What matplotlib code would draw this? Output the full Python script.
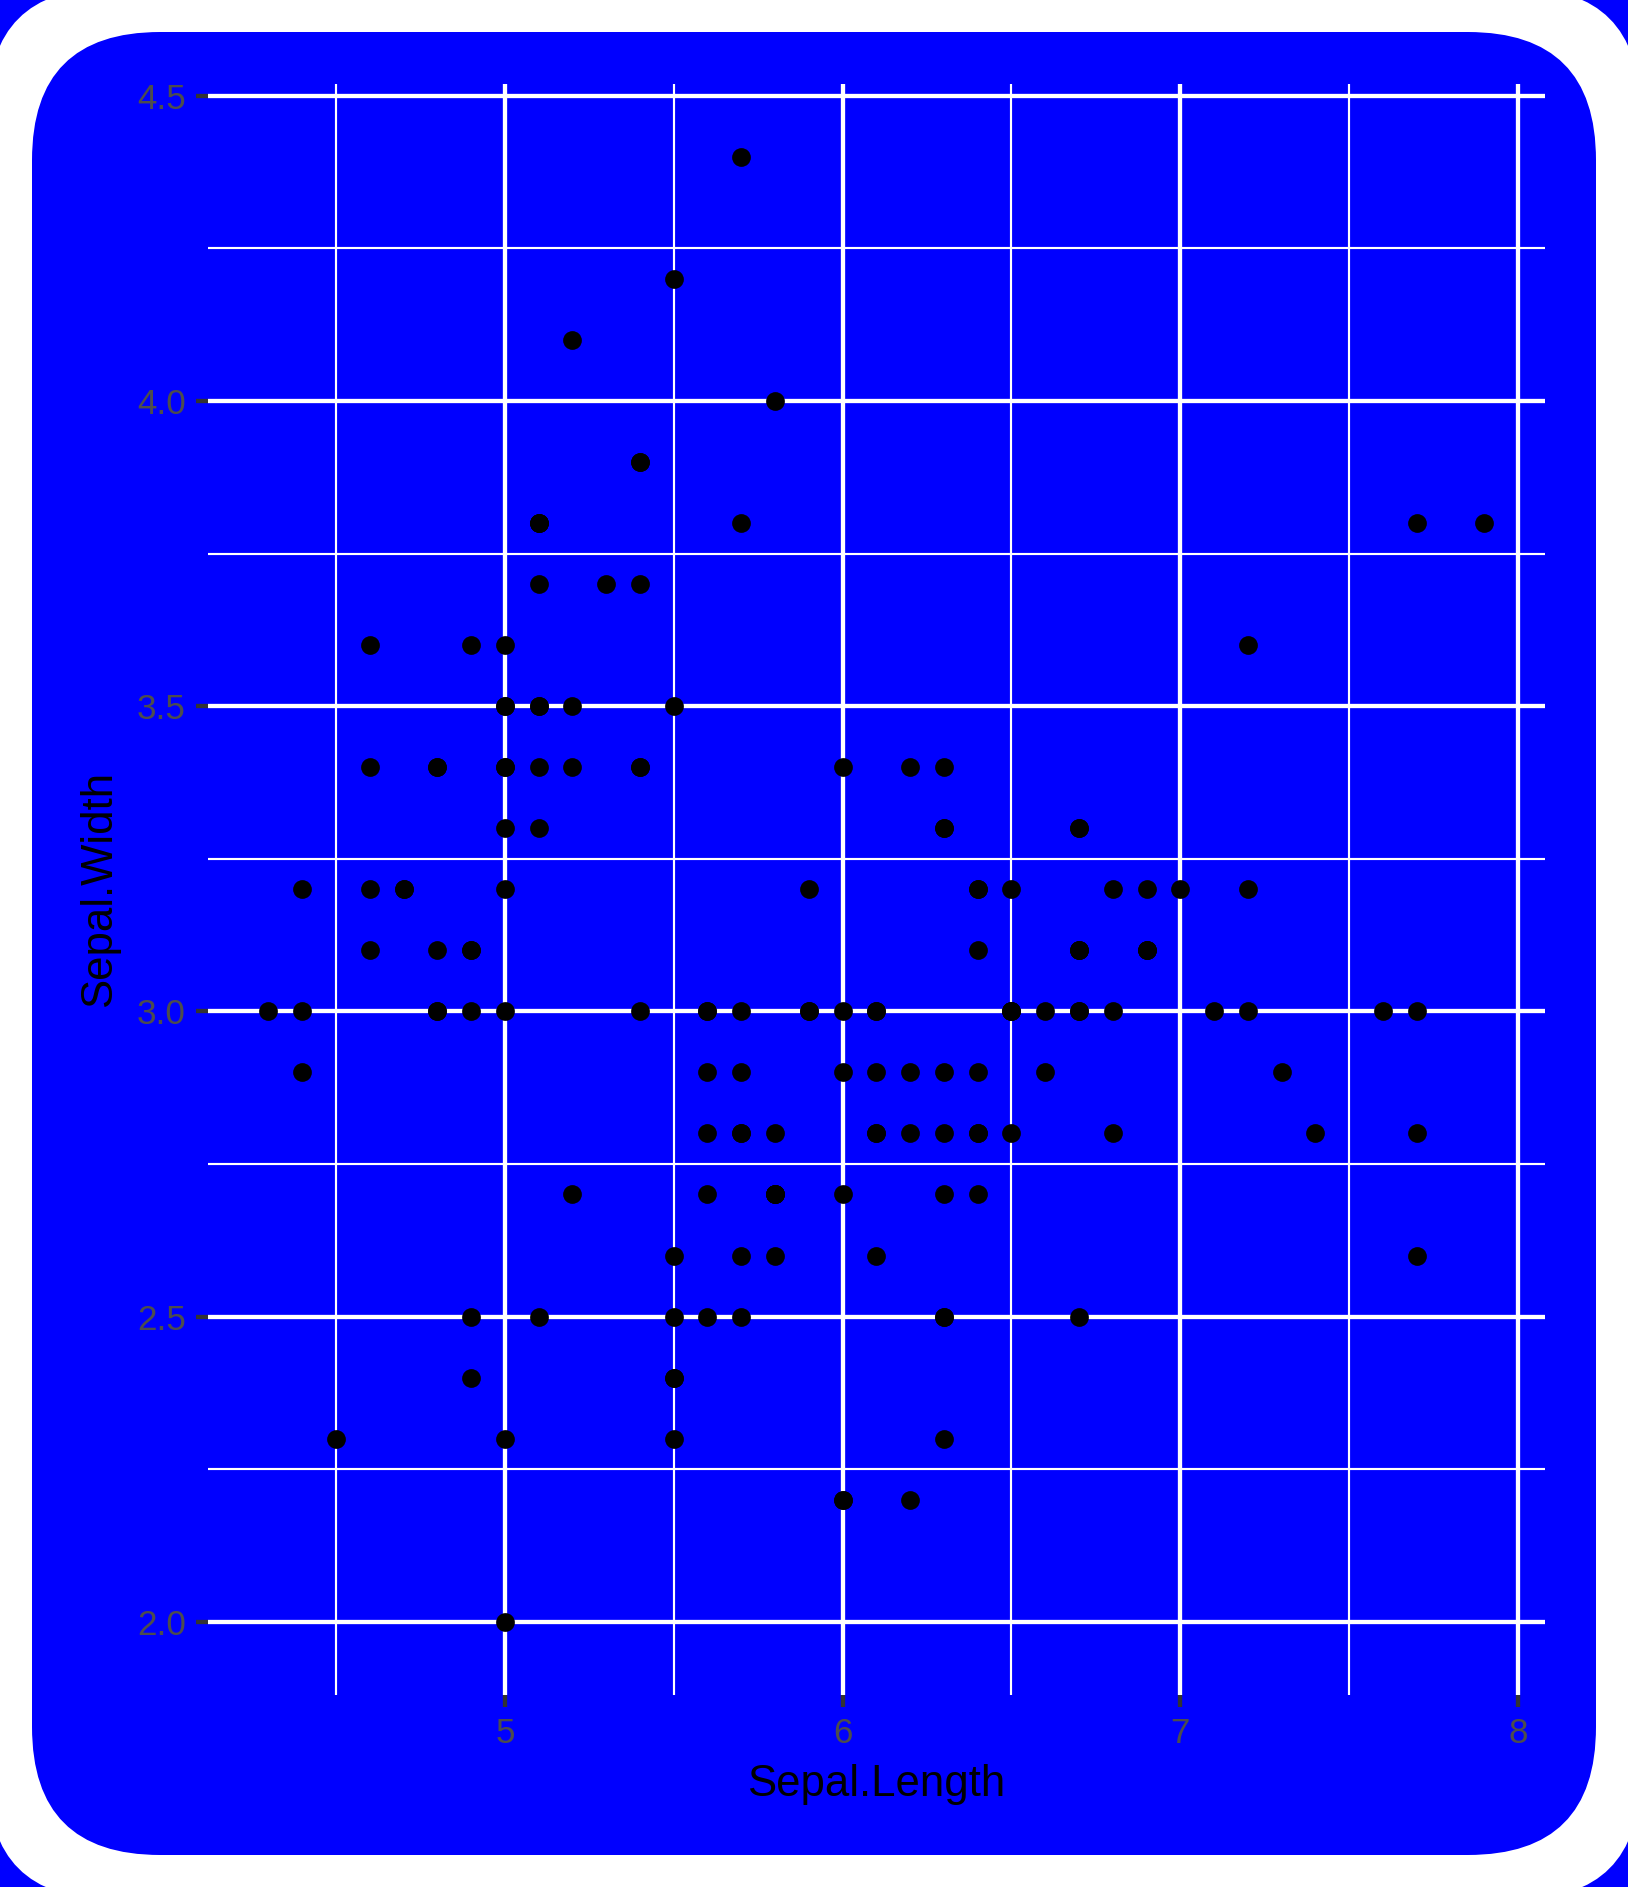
import matplotlib
matplotlib.use("Agg")
import matplotlib.pyplot as plt
from matplotlib.patches import FancyBboxPatch
from matplotlib.transforms import IdentityTransform
from matplotlib.ticker import MultipleLocator

plt.rcParams['font.family'] = ['Liberation Sans', 'DejaVu Sans']

# iris: Sepal.Length / Sepal.Width
sepal_length = [
    5.1, 4.9, 4.7, 4.6, 5.0, 5.4, 4.6, 5.0, 4.4, 4.9, 5.4, 4.8, 4.8, 4.3, 5.8, 5.7, 5.4, 5.1, 5.7, 5.1,
    5.4, 5.1, 4.6, 5.1, 4.8, 5.0, 5.0, 5.2, 5.2, 4.7, 4.8, 5.4, 5.2, 5.5, 4.9, 5.0, 5.5, 4.9, 4.4, 5.1,
    5.0, 4.5, 4.4, 5.0, 5.1, 4.8, 5.1, 4.6, 5.3, 5.0,
    7.0, 6.4, 6.9, 5.5, 6.5, 5.7, 6.3, 4.9, 6.6, 5.2, 5.0, 5.9, 6.0, 6.1, 5.6, 6.7, 5.6, 5.8, 6.2, 5.6,
    5.9, 6.1, 6.3, 6.1, 6.4, 6.6, 6.8, 6.7, 6.0, 5.7, 5.5, 5.5, 5.8, 6.0, 5.4, 6.0, 6.7, 6.3, 5.6, 5.5,
    5.5, 6.1, 5.8, 5.0, 5.6, 5.7, 5.7, 6.2, 5.1, 5.7,
    6.3, 5.8, 7.1, 6.3, 6.5, 7.6, 4.9, 7.3, 6.7, 7.2, 6.5, 6.4, 6.8, 5.7, 5.8, 6.4, 6.5, 7.7, 7.7, 6.0,
    6.9, 5.6, 7.7, 6.3, 6.7, 7.2, 6.2, 6.1, 6.4, 7.2, 7.4, 7.9, 6.4, 6.3, 6.1, 7.7, 6.3, 6.4, 6.0, 6.9,
    6.7, 6.9, 5.8, 6.8, 6.7, 6.7, 6.3, 6.5, 6.2, 5.9,
]
sepal_width = [
    3.5, 3.0, 3.2, 3.1, 3.6, 3.9, 3.4, 3.4, 2.9, 3.1, 3.7, 3.4, 3.0, 3.0, 4.0, 4.4, 3.9, 3.5, 3.8, 3.8,
    3.4, 3.7, 3.6, 3.3, 3.4, 3.0, 3.4, 3.5, 3.4, 3.2, 3.1, 3.4, 4.1, 4.2, 3.1, 3.2, 3.5, 3.6, 3.0, 3.4,
    3.5, 2.3, 3.2, 3.5, 3.8, 3.0, 3.8, 3.2, 3.7, 3.3,
    3.2, 3.2, 3.1, 2.3, 2.8, 2.8, 3.3, 2.4, 2.9, 2.7, 2.0, 3.0, 2.2, 2.9, 2.9, 3.1, 3.0, 2.7, 2.2, 2.5,
    3.2, 2.8, 2.5, 2.8, 2.9, 3.0, 2.8, 3.0, 2.9, 2.6, 2.4, 2.4, 2.7, 2.7, 3.0, 3.4, 3.1, 2.3, 3.0, 2.5,
    2.6, 3.0, 2.6, 2.3, 2.7, 3.0, 2.9, 2.9, 2.5, 2.8,
    3.3, 2.7, 3.0, 2.9, 3.0, 3.0, 2.5, 2.9, 2.5, 3.6, 3.2, 2.7, 3.0, 2.5, 2.8, 3.2, 3.0, 3.8, 2.6, 2.2,
    3.2, 2.8, 2.8, 2.7, 3.3, 3.2, 2.8, 3.0, 2.8, 3.0, 2.8, 3.8, 2.8, 2.8, 2.6, 3.0, 3.4, 3.1, 3.0, 3.1,
    3.1, 3.1, 2.7, 3.2, 3.3, 3.0, 2.5, 3.0, 3.4, 3.0,
]
x_ticks = [5, 6, 7, 8]
y_ticks = [2.0, 2.5, 3.0, 3.5, 4.0, 4.5]

W, H = 1628, 1887
fig = plt.figure(figsize=(W / 100, H / 100), dpi=100, facecolor='#0000FF')

# white rounded frame, then blue rounded plot background
outer = FancyBboxPatch((-12, -12), W + 24, H + 24,
                       boxstyle="round,pad=0,rounding_size=122",
                       transform=IdentityTransform(), facecolor='white',
                       edgecolor='none', zorder=-10)
inner = FancyBboxPatch((32, 32), W - 64, H - 64,
                       boxstyle="round,pad=0,rounding_size=128",
                       transform=IdentityTransform(), facecolor='#0000FF',
                       edgecolor='none', zorder=-9)
fig.add_artist(outer)
fig.add_artist(inner)

ax = fig.add_axes([207.7 / W, 1 - 1695 / H, (1545 - 207.7) / W, (1695 - 83.5) / H])
ax.set_facecolor('none')
ax.set_axisbelow(True)

xmin, xmax = min(sepal_length), max(sepal_length)
ymin, ymax = min(sepal_width), max(sepal_width)
dx = (xmax - xmin) * 0.05
dy = (ymax - ymin) * 0.05
ax.set_xlim(xmin - dx, xmax + dx)
ax.set_ylim(ymin - dy, ymax + dy)

ax.plot(sepal_length, sepal_width, 'o', color='black', markersize=13.5,
        markeredgewidth=0, zorder=3)

ax.set_xticks(x_ticks)
ax.set_xticklabels([str(v) for v in x_ticks])
ax.set_yticks(y_ticks)
ax.set_yticklabels([f"{v:.1f}" for v in y_ticks])
ax.xaxis.set_minor_locator(MultipleLocator(0.5))
ax.yaxis.set_minor_locator(MultipleLocator(0.25))

ax.grid(which='major', color='white', linewidth=3.1)
ax.grid(which='minor', color='white', linewidth=1.55)

for s in ax.spines.values():
    s.set_visible(False)

ax.tick_params(which='major', length=8.3, width=3.1, color='#333333',
               labelcolor='#4D4D4D', labelsize=25.2, pad=7.5)
ax.tick_params(which='minor', length=0)

ax.set_xlabel('Sepal.Length', fontsize=31.5, color='black', labelpad=10)
ax.set_ylabel('Sepal.Width', fontsize=31.5, color='black', labelpad=12)

fig.savefig('out.png', dpi=100, facecolor=fig.get_facecolor())
